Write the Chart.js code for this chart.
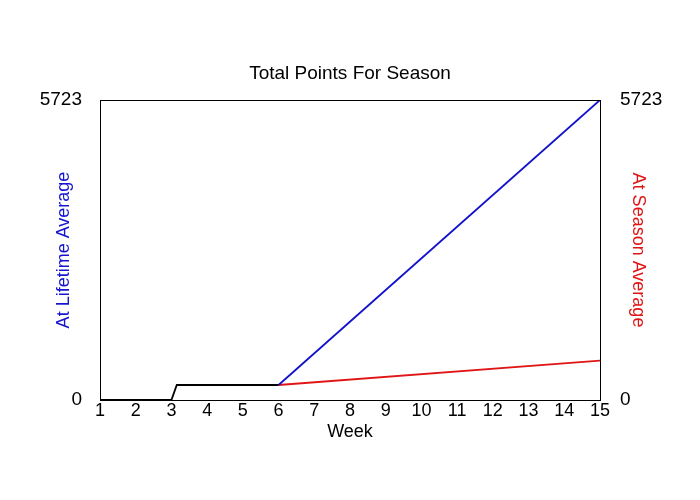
<!DOCTYPE html>
<html>
<head>
<meta charset="utf-8">
<script src="https://cdn.jsdelivr.net/npm/chart.js@4"></script>
<style>
  html, body { margin: 0; padding: 0; background: #fff; }
  #wrap { width: 700px; height: 500px; }
</style>
</head>
<body>
<div id="wrap"><canvas id="c" width="700" height="500"></canvas></div>
<script>
const weeksBefore = [1, 3, 3.15, 6];
const pointsBefore = [0, 0, 286, 286];
const weeksAfter = [6, 15];
const lifetimeAvg = [286, 5723];
const seasonAvg = [286, 750];
const yTicks = [0, 5723];
const xMin = 1, xMax = 15;

function pts(xs, ys) { return xs.map((x, i) => ({ x: x, y: ys[i] })); }

const FONT = "'Liberation Sans', Arial, sans-serif";

const borderPlugin = {
  id: 'frame',
  afterDatasetsDraw(chart) {
    const a = chart.chartArea, ctx = chart.ctx;
    ctx.save();
    ctx.strokeStyle = '#000';
    ctx.lineWidth = 1;
    ctx.strokeRect(Math.round(a.left) + 0.5, Math.round(a.top) + 0.5,
      Math.round(a.right - a.left), Math.round(a.bottom - a.top));
    ctx.restore();
  }
};

const plainNum = v => String(v);

new Chart(document.getElementById('c'), {
  type: 'line',
  data: {
    datasets: [
      { data: pts(weeksBefore, pointsBefore), borderColor: '#000000', borderWidth: 1.8, pointRadius: 0, yAxisID: 'y', tension: 0 },
      { data: pts(weeksAfter, lifetimeAvg), borderColor: '#1212cc', borderWidth: 1.8, pointRadius: 0, yAxisID: 'y', tension: 0 },
      { data: pts(weeksAfter, seasonAvg), borderColor: '#e01515', borderWidth: 1.8, pointRadius: 0, yAxisID: 'y2', tension: 0 }
    ]
  },
  options: {
    responsive: false,
    animation: false,
    devicePixelRatio: 1,
    layout: { padding: 0 },
    plugins: {
      legend: { display: false },
      tooltip: { enabled: false },
      title: {
        display: true,
        text: 'Total Points For Season',
        color: '#000',
        font: { family: FONT, size: 19, weight: 'normal' },
        padding: { top: 62.3, bottom: 14.9 }
      }
    },
    scales: {
      x: {
        type: 'linear',
        min: xMin, max: xMax,
        grid: { display: false, drawTicks: false, tickLength: 0 },
        border: { display: false },
        ticks: { stepSize: 1, color: '#000', padding: 0, font: { family: FONT, size: 18 }, maxRotation: 0, autoSkip: false, callback: plainNum },
        title: { display: true, text: 'Week', color: '#000', font: { family: FONT, size: 18 }, padding: { top: 0, bottom: 57 } },
        afterFit(s) { s.height = 100; }
      },
      y: {
        position: 'left',
        min: 0, max: 5723,
        grid: { display: false, drawTicks: false, tickLength: 0 },
        border: { display: false },
        afterBuildTicks(s) { s.ticks = yTicks.map(v => ({ value: v })); },
        ticks: { color: '#000', padding: 18, font: { family: FONT, size: 19 }, callback: plainNum },
        title: { display: true, text: 'At Lifetime Average', color: '#1515d0', font: { family: FONT, size: 18 }, padding: { top: 53, bottom: 0 } },
        afterFit(s) { s.width = 100; }
      },
      y2: {
        position: 'right',
        min: 0, max: 5723,
        grid: { display: false, drawTicks: false, tickLength: 0 },
        border: { display: false },
        afterBuildTicks(s) { s.ticks = yTicks.map(v => ({ value: v })); },
        ticks: { color: '#000', padding: 20, font: { family: FONT, size: 19 }, callback: plainNum },
        title: { display: true, text: 'At Season Average', color: '#e01515', font: { family: FONT, size: 18 }, padding: { top: 51, bottom: 0 } },
        afterFit(s) { s.width = 100; }
      }
    }
  },
  plugins: [borderPlugin]
});
</script>
</body>
</html>
